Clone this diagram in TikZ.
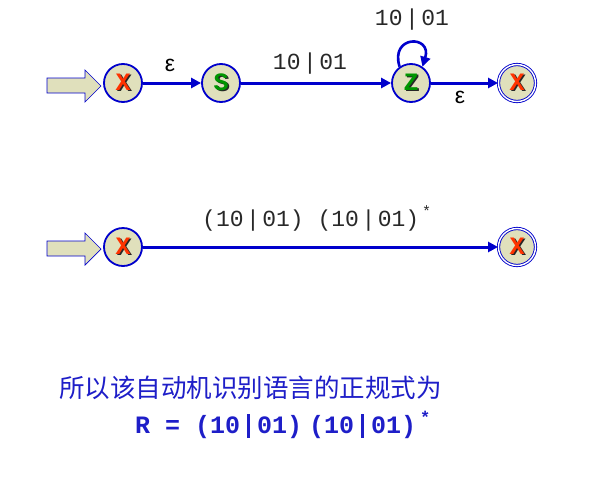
\documentclass[tikz,border=0pt]{standalone}
\usepackage{fontspec}
\setmainfont{Liberation Sans}
\newfontfamily\cjk{Noto Sans CJK SC}
\newfontfamily\mono{Liberation Mono}
\usetikzlibrary{arrows.meta,calc}
\definecolor{edgeblue}{RGB}{0,0,204}
\definecolor{statefill}{RGB}{224,224,188}
\definecolor{xred}{RGB}{255,51,0}
\definecolor{sgreen}{RGB}{0,150,0}
\definecolor{txtblue}{RGB}{30,30,200}
\definecolor{lblgray}{RGB}{40,40,40}
\newcommand\shadowed[2]{\makebox[0pt]{\hspace{3pt}\raisebox{-1.5pt}{\textcolor{black!85}{#2}}}\makebox[0pt]{\textcolor{#1}{#2}}}
\newcommand\thinbar{\kern2.5pt|\kern2.5pt}
\newcommand\thickbar{\kern7pt\rule[-4pt]{3pt}{24pt}\kern7pt}
\begin{document}
\begin{tikzpicture}[x=1pt,y=1pt,
  state/.style={circle,draw=edgeblue,line width=1.8pt,fill=statefill,minimum size=38pt,inner sep=0pt,font=\mono\bfseries\fontsize{25}{25}\selectfont},
  accept/.style={circle,draw=edgeblue,line width=0.9pt,double=white,double distance=1.4pt,fill=statefill,minimum size=37pt,inner sep=0pt,font=\mono\bfseries\fontsize{25}{25}\selectfont},
  edge/.style={draw=edgeblue,line width=3pt,-{Triangle[length=10pt,width=10pt]}},
  inarrow/.style={draw=edgeblue,line width=0.7pt,fill=statefill},
  lbl/.style={inner sep=0pt,text=lblgray,font=\mono\fontsize{23}{23}\selectfont},
  eps/.style={inner sep=0pt,text=black,font=\fontsize{23}{23}\selectfont}]
\useasboundingbox (0,0) rectangle (613,-485);
\fill[white] (0,0) rectangle (613,-485);
% top automaton
\node[state] (x1) at (123,-83) {\shadowed{xred}{X}};
\node[state] (s) at (221,-83) {\shadowed{sgreen}{S}};
\node[state] (z) at (411,-83) {\shadowed{sgreen}{Z}};
\node[accept] (f1) at (517,-83) {\shadowed{xred}{X}};
\coordinate (in1) at (101,-86);
\draw[inarrow] (in1) -- ++(-16,16) -- ++(0,-8) -- ++(-38,0) -- ++(0,-15) -- ++(38,0) -- ++(0,-9) -- cycle;
\draw[edge] (x1) -- (s);
\draw[edge] (s) -- (z);
\draw[edge] (z) -- (f1);
\draw[edge,line width=2.6pt] (z.125) .. controls ($(z.125)+(-10,32)$) and ($(z.55)+(10,32)$) .. (z.55);
\node[eps] (e1) at (170,-65) {ε};
\node[lbl] (l1) at (310,-64) {10\thinbar01};
\node[lbl] (l2) at (412,-20) {10\thinbar01};
\node[eps] (e2) at (460,-97) {ε};
% bottom automaton
\node[state] (x2) at (123,-247) {\shadowed{xred}{X}};
\node[accept] (f2) at (517,-247) {\shadowed{xred}{X}};
\coordinate (in2) at (101,-249);
\draw[inarrow] (in2) -- ++(-16,16) -- ++(0,-8) -- ++(-38,0) -- ++(0,-15) -- ++(38,0) -- ++(0,-9) -- cycle;
\draw[edge] (x2) -- (f2);
\node[lbl,anchor=west] (l3) at (202,-218) {(10\thinbar01) (10\thinbar01)\kern3pt\raisebox{10pt}{\fontsize{15}{15}\selectfont *}};
% text
\node[anchor=west,inner sep=0pt,text=txtblue,font=\cjk\fontsize{25.5}{25.5}\selectfont] (t1) at (59,-388) {所以该自动机识别语言的正规式为};
\node[anchor=west,inner sep=0pt,text=txtblue,font=\mono\bfseries\fontsize{25}{25}\selectfont] (t2) at (135,-425) {R = (10\thickbar01)\kern7pt(10\thickbar01)\kern4pt\raisebox{10pt}{\fontsize{17}{17}\selectfont *}};
\end{tikzpicture}
\end{document}
